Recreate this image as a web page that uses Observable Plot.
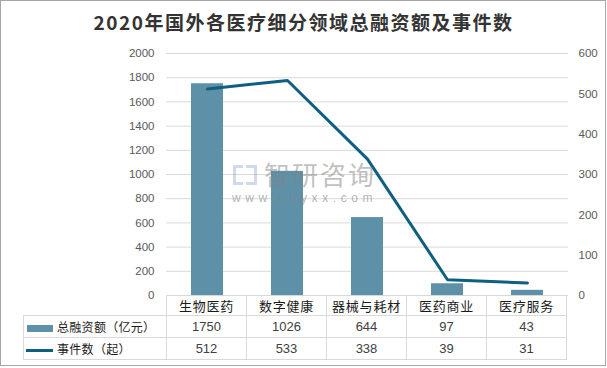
<!DOCTYPE html>
<html>
<head>
<meta charset="utf-8">
<script src="https://cdn.jsdelivr.net/npm/d3@7"></script>
<script src="https://cdn.jsdelivr.net/npm/@observablehq/plot@0.6"></script>
<style>
  html, body { margin: 0; padding: 0; background: #fff; }
  #wrap { position: relative; width: 607px; height: 368px; overflow: hidden; font-family: "Noto Sans CJK SC", "Noto Sans", sans-serif; }
  #frame { position: absolute; left: 0; top: 0; width: 604px; height: 364px; border: 1px solid #a6a6a6; }
  #title { position: absolute; left: 0; top: 9px; width: 607px; text-align: center; font-size: 19px; font-weight: bold; letter-spacing: 1.5px; color: #333; line-height: 26px; }
  #chart { position: absolute; left: 0; top: 0; }
  #tbl { position: absolute; left: 23px; top: 295px; border-collapse: collapse; table-layout: fixed; }
  #tbl td { border: 1px solid #d9d9d9; padding: 0; text-align: center; color: #404040; font-family: "Liberation Sans", "Noto Sans CJK SC", sans-serif; font-size: 13px; }
  #tbl tr.cat td { height: 19px; font-family: "Noto Sans CJK SC", sans-serif; color: #1a1a1a; font-size: 13px; letter-spacing: 0.8px; }
  #tbl tr.row td { height: 21px; }
  #tbl td.lg { text-align: left; font-family: "Noto Sans CJK SC", sans-serif; font-size: 12px; letter-spacing: 0.3px; color: #1a1a1a; white-space: nowrap; }
  #tbl td.blank { border-top: none; border-left: none; }
  .sw { display: inline-block; vertical-align: middle; margin-left: 3px; margin-right: 4px; }
  #wm { position: absolute; left: 232px; top: 160px; pointer-events: none; }
  #wm .big { font-size: 26px; letter-spacing: 2px; color: rgba(130,130,130,0.5); font-family: "Noto Sans CJK SC", sans-serif; line-height: 28px; height: 28px; padding-left: 32px; }
  #wm .small { margin-top: 4px; font-size: 12px; letter-spacing: 4.6px; color: rgba(130,130,130,0.6); font-family: "Liberation Sans", sans-serif; line-height: 13px; }
  #wm .logo { position: absolute; left: 1px; top: 5px; width: 24px; height: 20px; }
</style>
</head>
<body>
<div id="wrap">
  <div id="frame"></div>
  <div id="title"></div>
  <div id="chart"></div>
  <div id="wm"><div class="logo"><div style="position:absolute;left:0;top:0;width:10px;height:20px;border:3px solid rgba(120,150,200,0.35);border-right:none;box-sizing:border-box"></div><div style="position:absolute;left:13px;top:0;width:11px;height:20px;border:3px solid rgba(120,150,200,0.35);border-left:none;box-sizing:border-box"></div></div><div class="big">智研咨询</div><div class="small">www.chyxx.com</div></div>
  <table id="tbl"></table>
</div>
<script>
const titleText = "2020年国外各医疗细分领域总融资额及事件数";
const categories = ["生物医药", "数字健康", "器械与耗材", "医药商业", "医疗服务"];
const amounts = [1750, 1026, 644, 97, 43];   // 总融资额（亿元）
const events = [512, 533, 338, 39, 31];       // 事件数（起）
const seriesNames = ["总融资额（亿元）", "事件数（起）"];
const leftTicks = [0, 200, 400, 600, 800, 1000, 1200, 1400, 1600, 1800, 2000];
const rightTicks = [0, 100, 200, 300, 400, 500, 600];

const leftMax = 2000, rightMax = 600;
const k = leftMax / rightMax;
const barColor = "#5e91a8";
const lineColor = "#0f5f80";

const data = categories.map((c, i) => ({cat: c, amount: amounts[i], events: events[i]}));

document.getElementById("title").textContent = titleText;

const chart = Plot.plot({
  width: 607,
  height: 300,
  marginLeft: 166,
  marginRight: 39,
  marginTop: 53,
  marginBottom: 5,
  style: {color: "#595959", fontSize: "11.5px", fontFamily: "Liberation Sans, sans-serif", background: "transparent"},
  x: {domain: categories, padding: 0, axis: null},
  y: {domain: [0, leftMax], axis: null},
  marks: [
    Plot.ruleY(leftTicks.filter(d => d > 0), {stroke: "#d9d9d9", strokeWidth: 1}),
    Plot.barY(data, {x: "cat", y: "amount", fill: barColor, insetLeft: 24, insetRight: 24}),
    Plot.lineY(data, {x: "cat", y: d => d.events * k, stroke: lineColor, strokeWidth: 3, strokeLinejoin: "miter"}),
    Plot.ruleY([0], {stroke: "#d9d9d9", strokeWidth: 1}),
    Plot.axisY(leftTicks, {anchor: "left", tickSize: 0, tickPadding: 12, tickFormat: d => String(d), label: null}),
    Plot.axisY(rightTicks.map(d => d * k), {anchor: "right", tickSize: 0, tickPadding: 10, tickFormat: d => String(Math.round(d / k)), label: null})
  ]
});
document.getElementById("chart").appendChild(chart);

// data table with legend
const tbl = document.getElementById("tbl");
const colg = document.createElement("colgroup");
[143, 80, 80, 80, 80, 80].forEach(w => { const c = document.createElement("col"); c.style.width = w + "px"; colg.appendChild(c); });
tbl.appendChild(colg);
const trC = document.createElement("tr"); trC.className = "cat";
const blank = document.createElement("td"); blank.className = "blank"; trC.appendChild(blank);
categories.forEach(c => { const td = document.createElement("td"); td.textContent = c; trC.appendChild(td); });
tbl.appendChild(trC);
[[amounts, "bar"], [events, "line"]].forEach(([vals, kind], r) => {
  const tr = document.createElement("tr"); tr.className = "row";
  const lg = document.createElement("td"); lg.className = "lg";
  const sw = document.createElement("span"); sw.className = "sw";
  if (kind === "bar") { sw.style.width = "26px"; sw.style.height = "7px"; sw.style.background = barColor; }
  else { sw.style.width = "27px"; sw.style.height = "3px"; sw.style.background = lineColor; sw.style.marginLeft = "2px"; }
  lg.appendChild(sw);
  lg.appendChild(document.createTextNode(seriesNames[r]));
  tr.appendChild(lg);
  vals.forEach(v => { const td = document.createElement("td"); td.textContent = v; tr.appendChild(td); });
  tbl.appendChild(tr);
});
</script>
</body>
</html>
